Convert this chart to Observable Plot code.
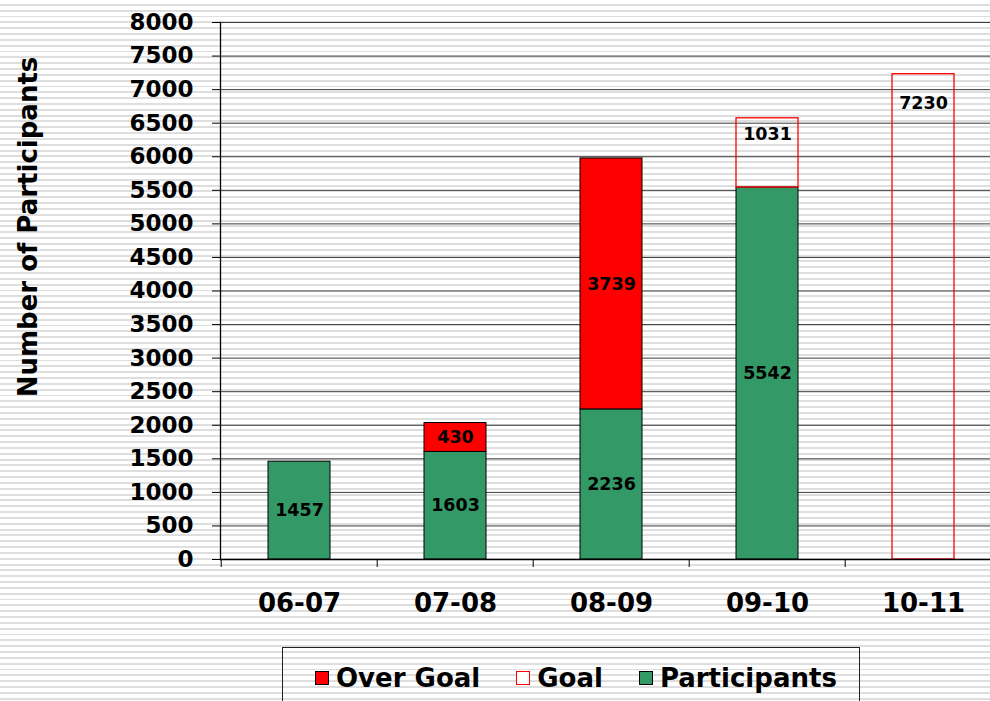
<!DOCTYPE html>
<html><head><meta charset="utf-8">
<script src="https://cdn.jsdelivr.net/npm/d3@7"></script>
<script src="https://cdn.jsdelivr.net/npm/@observablehq/plot@0.6"></script>
<style>
html,body{margin:0;padding:0;}
body{width:990px;height:701px;overflow:hidden;position:relative;font-family:"DejaVu Sans",Verdana,sans-serif;
background:repeating-linear-gradient(to bottom,#ffffff 0px,#ffffff 3.9px,#dedede 3.9px,#dedede 5.83px);}
#chart{position:absolute;left:0;top:0;width:990px;height:648px;overflow:hidden;}
#chart svg{max-width:none !important;}
#ytitle{position:absolute;left:28px;top:227px;transform:translate(-50%,-50%) rotate(-90deg);white-space:nowrap;font-weight:bold;font-size:26px;color:#000;}
#legend{position:absolute;left:282px;top:647px;width:578px;height:62px;border:1.5px solid #222;box-sizing:border-box;display:flex;align-items:center;padding-left:32px;font-weight:bold;font-size:26px;color:#000;white-space:nowrap;}
.item{display:flex;align-items:center;margin-right:36px;white-space:nowrap;}
.sw{width:14px;height:14px;margin-right:7px;box-sizing:border-box;flex:none;}
</style></head>
<body>
<div id="chart"></div>
<div id="ytitle">Number of Participants</div>
<div id="legend"></div>
<script>
const years = ["06-07","07-08","08-09","09-10","10-11"];
const participants = [1457,1603,2236,5542,0];
const overGoal = [0,430,3739,0,0];
const goal = [0,0,0,1031,7230];
const yTicks = d3.range(0, 8001, 500);
const seriesNames = ["Over Goal","Goal","Participants"];

const rows = [];
years.forEach((yr,i)=>{
  let base = 0;
  [["Participants",participants[i]],["Over Goal",overGoal[i]],["Goal",goal[i]]].forEach(([s,v])=>{
    if (v > 0) rows.push({year:yr, series:s, value:v, y1:base, y2:base+v});
    base += v;
  });
});
const part = rows.filter(d=>d.series==="Participants");
const over = rows.filter(d=>d.series==="Over Goal");
const gl = rows.filter(d=>d.series==="Goal");

const W = 1003, H = 648, ML = 220;
const halfStep = (W - ML) / years.length / 2;
const labelFont = {fontSize:17.5, fontWeight:"bold", fill:"#000", fontFamily:"DejaVu Sans"};

const chart = Plot.plot({
  width: W, height: H,
  marginLeft: ML, marginRight: 0, marginTop: 22, marginBottom: 89,
  style: {background:"transparent", fontFamily:"DejaVu Sans", color:"#000", overflow:"visible", maxWidth:"none"},
  x: {domain: years, paddingInner: 0.6, paddingOuter: 0.3, label: null},
  y: {domain: [0, 8000], label: null},
  marks: [
    Plot.ruleY(yTicks, {stroke:"#3c3c3c", strokeWidth:1}),
    Plot.barY(part, {x:"year", y1:"y1", y2:"y2", fill:"#339966", stroke:"#000", strokeWidth:1}),
    Plot.barY(over, {x:"year", y1:"y1", y2:"y2", fill:"#ff0000", stroke:"#000", strokeWidth:1}),
    Plot.barY(gl, {x:"year", y1:"y1", y2:"y2", fill:"none", stroke:"#ff0000", strokeWidth:1.3}),
    Plot.text(part, {x:"year", y:d=>(d.y1+d.y2)/2, text:d=>String(d.value), ...labelFont}),
    Plot.text(over, {x:"year", y:d=>(d.y1+d.y2)/2, text:d=>String(d.value), ...labelFont}),
    Plot.text(gl.filter(d=>d.year==="09-10"), {x:"year", y:"y2", dy:16, text:d=>String(d.value), ...labelFont}),
    Plot.text(gl.filter(d=>d.year==="10-11"), {x:"year", y:"y2", dy:29, text:d=>String(d.value), ...labelFont}),
    Plot.ruleY([0], {stroke:"#000", strokeWidth:1.3}),
    Plot.frame({anchor:"left", stroke:"#000", strokeWidth:1.3}),
    Plot.axisY({ticks: yTicks, tickFormat: d3.format("d"), tickSize: 8, tickPadding: 19, fontSize: 23, fontWeight: "bold", stroke:"#000", fill:"#000", label: null}),
    Plot.axisX({tickSize: 0, tickPadding: 34, fontSize: 26, fontWeight: "bold", fill:"#000", label: null}),
    Plot.axisX({tickSize: 8, tickFormat: () => "", dx: -halfStep, stroke:"#000", label: null})
  ]
});
document.getElementById("chart").appendChild(chart);

const swatchStyle = {
  "Over Goal": "background:#ff0000;border:1.5px solid #000;",
  "Goal": "background:#fff;border:1.5px solid #ff0000;",
  "Participants": "background:#339966;border:1.5px solid #000;"
};
const legend = document.getElementById("legend");
seriesNames.forEach(s=>{
  const it = document.createElement("div");
  it.className = "item";
  it.innerHTML = `<span class="sw" style="${swatchStyle[s]}"></span><span>${s}</span>`;
  legend.appendChild(it);
});
</script>
</body></html>
